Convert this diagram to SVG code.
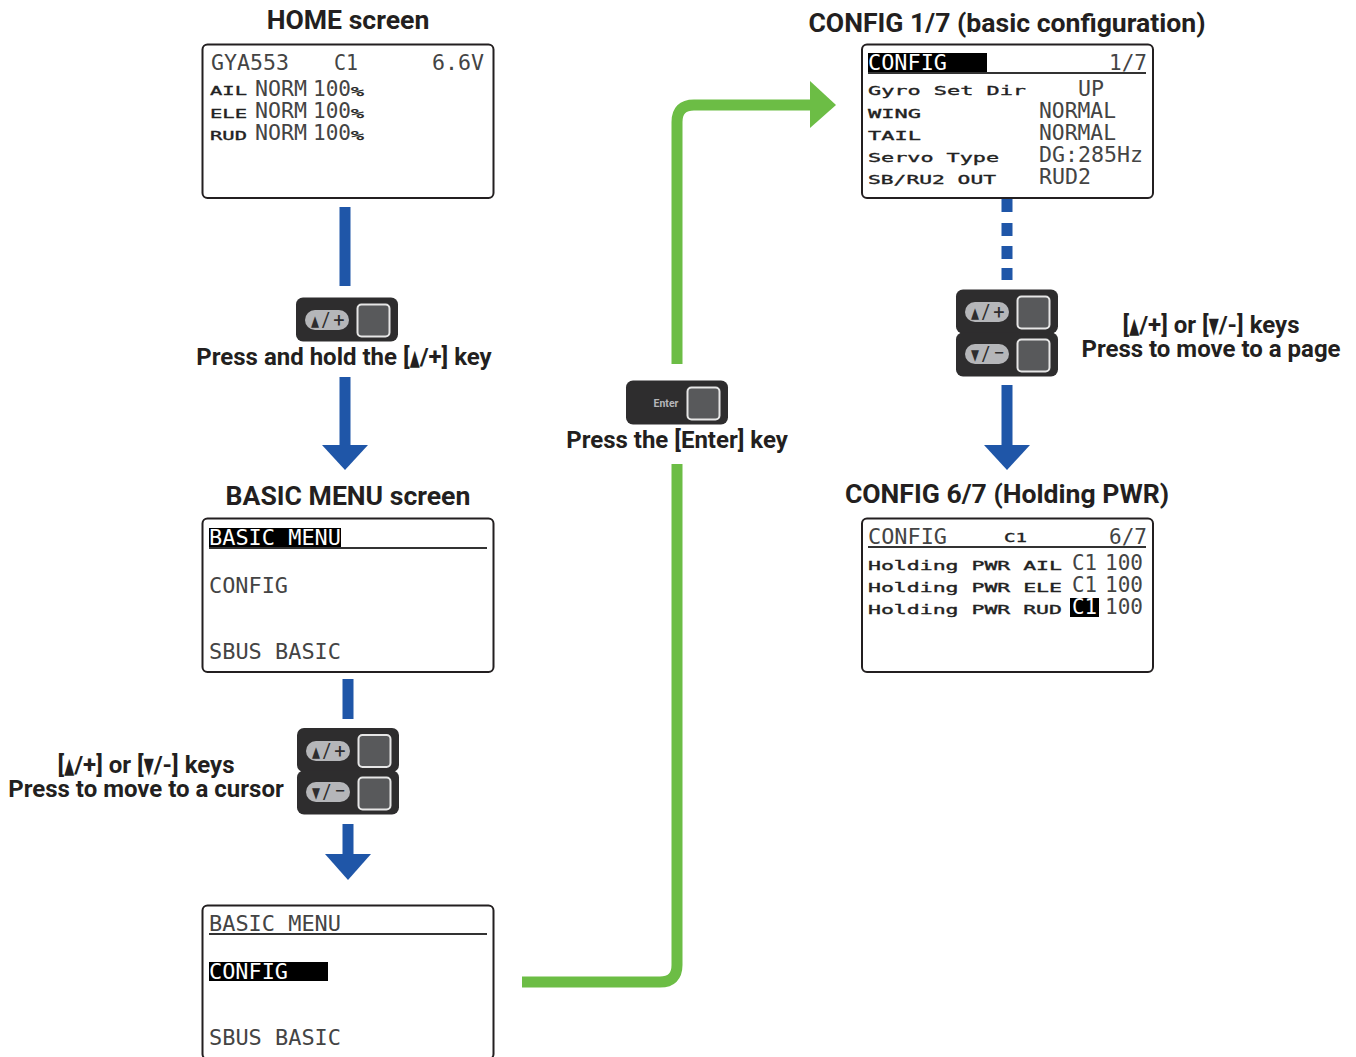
<svg xmlns="http://www.w3.org/2000/svg" width="1356" height="1057" viewBox="0 0 1356 1057">
<style>
.scr{fill:#fff;stroke:#231f20;stroke-width:2}
.t{font-family:Roboto,"Liberation Sans",sans-serif;font-weight:700;fill:#231f20;text-anchor:middle;font-size:26.600px}
.l{font-size:24px}
.L{font-family:"DejaVu Sans Mono","Liberation Mono",monospace;font-size:22px;fill:#444}
.S{font-family:"DejaVu Sans Mono","Liberation Mono",monospace;font-size:13px;fill:#222;stroke:#222;stroke-width:.35px}
.w{fill:#fff}
.rule{stroke:#333;stroke-width:2}
.blue{fill:none;stroke:#1f56a8;stroke-width:11}
.green{fill:none;stroke:#6cbd45;stroke-width:11}
.k{font-family:Roboto,"Liberation Sans",sans-serif;font-size:20px;fill:#2e2d2e;text-anchor:middle}
.kt{font-family:"DejaVu Sans",sans-serif;font-size:15px;fill:#2e2d2e}
.e{font-family:Roboto,"Liberation Sans",sans-serif;font-size:10.500px;font-weight:700;fill:#b5b6b9;text-anchor:middle}
.tri{font-family:"DejaVu Sans",sans-serif;font-size:22px}
</style>
<defs>
<g id="keybody"><rect width="102" height="44" rx="7" fill="#2e2d2e"/><rect x="61.500" y="7" width="32" height="32" rx="4" fill="#58595b" stroke="#e6e6e6" stroke-width="2"/></g>
<rect id="pill" width="44" height="20" rx="10" fill="#b5b6b9"/>
</defs>
<g id="connectors">
<path class="blue" d="M345 207V286M345 377V447"/><polygon fill="#1f56a8" points="322,445 368,445 345,470"/>
<path class="blue" d="M348 679V719M348 824V856"/><polygon fill="#1f56a8" points="325,854 371,854 348,880"/>
<path class="blue" d="M1007 198V212M1007 223V236M1007 246V259M1007 268V280M1007 385V447"/><polygon fill="#1f56a8" points="984,445 1030,445 1007,470"/>
<path class="green" d="M522 982H660Q677 982 677 965V464M677 364V122Q677 105 694 105H812"/><polygon fill="#6cbd45" points="810,81 836,105 810,128"/>
</g>
<g id="home">
<text class="t" x="348" y="29">HOME screen</text>
<rect class="scr" x="202.500" y="44.500" width="291" height="153.500" rx="5"/>
<text class="L" x="211" y="70" textLength="78" lengthAdjust="spacingAndGlyphs">GYA553</text>
<text class="L" x="334" y="70" textLength="24" lengthAdjust="spacingAndGlyphs">C1</text>
<text class="L" x="432" y="70" textLength="52" lengthAdjust="spacingAndGlyphs">6.6V</text>
<text class="S" x="210" y="95" textLength="37" lengthAdjust="spacingAndGlyphs">AIL</text>
<text class="L" x="255" y="96" textLength="52" lengthAdjust="spacingAndGlyphs">NORM</text>
<text class="L" x="313" y="96" textLength="38" lengthAdjust="spacingAndGlyphs">100</text>
<text class="S" x="351" y="96" textLength="13" lengthAdjust="spacingAndGlyphs">%</text>
<text class="S" x="210" y="118" textLength="37" lengthAdjust="spacingAndGlyphs">ELE</text>
<text class="L" x="255" y="118" textLength="52" lengthAdjust="spacingAndGlyphs">NORM</text>
<text class="L" x="313" y="118" textLength="38" lengthAdjust="spacingAndGlyphs">100</text>
<text class="S" x="351" y="118" textLength="13" lengthAdjust="spacingAndGlyphs">%</text>
<text class="S" x="210" y="140" textLength="37" lengthAdjust="spacingAndGlyphs">RUD</text>
<text class="L" x="255" y="140" textLength="52" lengthAdjust="spacingAndGlyphs">NORM</text>
<text class="L" x="313" y="140" textLength="38" lengthAdjust="spacingAndGlyphs">100</text>
<text class="S" x="351" y="140" textLength="13" lengthAdjust="spacingAndGlyphs">%</text>
</g>
<g id="key-hold">
<use href="#keybody" x="296" y="297.500"/><use href="#pill" x="305" y="310"/>
<text class="kt" x="311" y="325.500" textLength="8" lengthAdjust="spacingAndGlyphs">▲</text><text class="k" x="326" y="327">/</text><text class="k" x="339" y="327">+</text>
<text class="t l" x="344" y="365">Press and hold the [<tspan class="tri" textLength="10" lengthAdjust="spacingAndGlyphs">▲</tspan>/+] key</text>
</g>
<g id="basic-menu">
<text class="t" x="348" y="505">BASIC MENU screen</text>
<rect class="scr" x="202.500" y="518.500" width="291" height="153.500" rx="5"/>
<rect x="209" y="528" width="132" height="19" fill="#000"/>
<line class="rule" x1="209" y1="548" x2="487" y2="548"/>
<text class="L w" x="209" y="545" textLength="132" lengthAdjust="spacingAndGlyphs">BASIC MENU</text>
<text class="L" x="209" y="593" textLength="79" lengthAdjust="spacingAndGlyphs">CONFIG</text>
<text class="L" x="209" y="659" textLength="132" lengthAdjust="spacingAndGlyphs">SBUS BASIC</text>
</g>
<g id="keys-cursor">
<use href="#keybody" x="297" y="728"/><use href="#pill" x="306" y="741"/>
<text class="kt" x="312" y="756.500" textLength="8" lengthAdjust="spacingAndGlyphs">▲</text><text class="k" x="327" y="758">/</text><text class="k" x="340" y="758">+</text>
<use href="#keybody" x="297" y="770.500"/><use href="#pill" x="306" y="782"/>
<text class="kt" x="312" y="797.500" textLength="8" lengthAdjust="spacingAndGlyphs">▼</text><text class="k" x="327" y="799">/</text><text class="k" x="340" y="798">−</text>
<text class="t l" x="146" y="773">[<tspan class="tri" textLength="10" lengthAdjust="spacingAndGlyphs">▲</tspan>/+] or [<tspan class="tri" textLength="10" lengthAdjust="spacingAndGlyphs">▼</tspan>/-] keys</text>
<text class="t l" x="146" y="797">Press to move to a cursor</text>
</g>
<g id="basic-menu-cursor">
<rect class="scr" x="202.500" y="905.500" width="291" height="153.500" rx="5"/>
<line class="rule" x1="209" y1="934" x2="487" y2="934"/>
<text class="L" x="209" y="931" textLength="132" lengthAdjust="spacingAndGlyphs">BASIC MENU</text>
<rect x="209" y="962" width="119" height="19" fill="#000"/>
<text class="L w" x="209" y="979" textLength="79" lengthAdjust="spacingAndGlyphs">CONFIG</text>
<text class="L" x="209" y="1045" textLength="132" lengthAdjust="spacingAndGlyphs">SBUS BASIC</text>
</g>
<g id="key-enter">
<use href="#keybody" x="626" y="380.500"/>
<text class="e" x="666" y="407">Enter</text>
<text class="t l" x="677" y="448">Press the [Enter] key</text>
</g>
<g id="config-1">
<text class="t" x="1007" y="32">CONFIG 1/7 (basic configuration)</text>
<rect class="scr" x="862" y="44.500" width="291" height="153.500" rx="5"/>
<rect x="868" y="53" width="119" height="19" fill="#000"/>
<line class="rule" x1="868" y1="73" x2="1146" y2="73"/>
<text class="L w" x="868" y="70" textLength="79" lengthAdjust="spacingAndGlyphs">CONFIG</text>
<text class="L" x="1109" y="70" textLength="38" lengthAdjust="spacingAndGlyphs">1/7</text>
<text class="S" x="868" y="95" textLength="158" lengthAdjust="spacingAndGlyphs">Gyro Set Dir</text>
<text class="L" x="1078" y="96" textLength="26" lengthAdjust="spacingAndGlyphs">UP</text>
<text class="S" x="868" y="118" textLength="53" lengthAdjust="spacingAndGlyphs">WING</text>
<text class="L" x="1039" y="118" textLength="77" lengthAdjust="spacingAndGlyphs">NORMAL</text>
<text class="S" x="868" y="140" textLength="53" lengthAdjust="spacingAndGlyphs">TAIL</text>
<text class="L" x="1039" y="140" textLength="77" lengthAdjust="spacingAndGlyphs">NORMAL</text>
<text class="S" x="868" y="162" textLength="131" lengthAdjust="spacingAndGlyphs">Servo Type</text>
<text class="L" x="1039" y="162" textLength="104" lengthAdjust="spacingAndGlyphs">DG:285Hz</text>
<text class="S" x="868" y="184" textLength="128" lengthAdjust="spacingAndGlyphs">SB/RU2 OUT</text>
<text class="L" x="1039" y="184" textLength="52" lengthAdjust="spacingAndGlyphs">RUD2</text>
</g>
<g id="keys-page">
<use href="#keybody" x="956" y="289.500"/><use href="#pill" x="965" y="302"/>
<text class="kt" x="971" y="317.500" textLength="8" lengthAdjust="spacingAndGlyphs">▲</text><text class="k" x="986" y="319">/</text><text class="k" x="999" y="319">+</text>
<use href="#keybody" x="956" y="332.500"/><use href="#pill" x="965" y="344"/>
<text class="kt" x="971" y="359.500" textLength="8" lengthAdjust="spacingAndGlyphs">▼</text><text class="k" x="986" y="361">/</text><text class="k" x="999" y="360">−</text>
<text class="t l" x="1211" y="333">[<tspan class="tri" textLength="10" lengthAdjust="spacingAndGlyphs">▲</tspan>/+] or [<tspan class="tri" textLength="10" lengthAdjust="spacingAndGlyphs">▼</tspan>/-] keys</text>
<text class="t l" x="1211" y="357">Press to move to a page</text>
</g>
<g id="config-6">
<text class="t" x="1007" y="503">CONFIG 6/7 (Holding PWR)</text>
<rect class="scr" x="862" y="518.500" width="291" height="153.500" rx="5"/>
<line class="rule" x1="868" y1="547" x2="1146" y2="547"/>
<text class="L" x="868" y="544" textLength="79" lengthAdjust="spacingAndGlyphs">CONFIG</text>
<text class="S" x="1004" y="542" textLength="23" lengthAdjust="spacingAndGlyphs">C1</text>
<text class="L" x="1109" y="544" textLength="38" lengthAdjust="spacingAndGlyphs">6/7</text>
<text class="S" x="868" y="570" textLength="194" lengthAdjust="spacingAndGlyphs">Holding PWR AIL</text>
<text class="L" x="1072" y="570" textLength="25" lengthAdjust="spacingAndGlyphs">C1</text>
<text class="L" x="1105" y="570" textLength="38" lengthAdjust="spacingAndGlyphs">100</text>
<text class="S" x="868" y="592" textLength="194" lengthAdjust="spacingAndGlyphs">Holding PWR ELE</text>
<text class="L" x="1072" y="592" textLength="25" lengthAdjust="spacingAndGlyphs">C1</text>
<text class="L" x="1105" y="592" textLength="38" lengthAdjust="spacingAndGlyphs">100</text>
<text class="S" x="868" y="614" textLength="194" lengthAdjust="spacingAndGlyphs">Holding PWR RUD</text>
<rect x="1070" y="598" width="29" height="19" fill="#000"/>
<text class="L w" x="1072" y="614" textLength="25" lengthAdjust="spacingAndGlyphs">C1</text>
<text class="L" x="1105" y="614" textLength="38" lengthAdjust="spacingAndGlyphs">100</text>
</g>
</svg>
